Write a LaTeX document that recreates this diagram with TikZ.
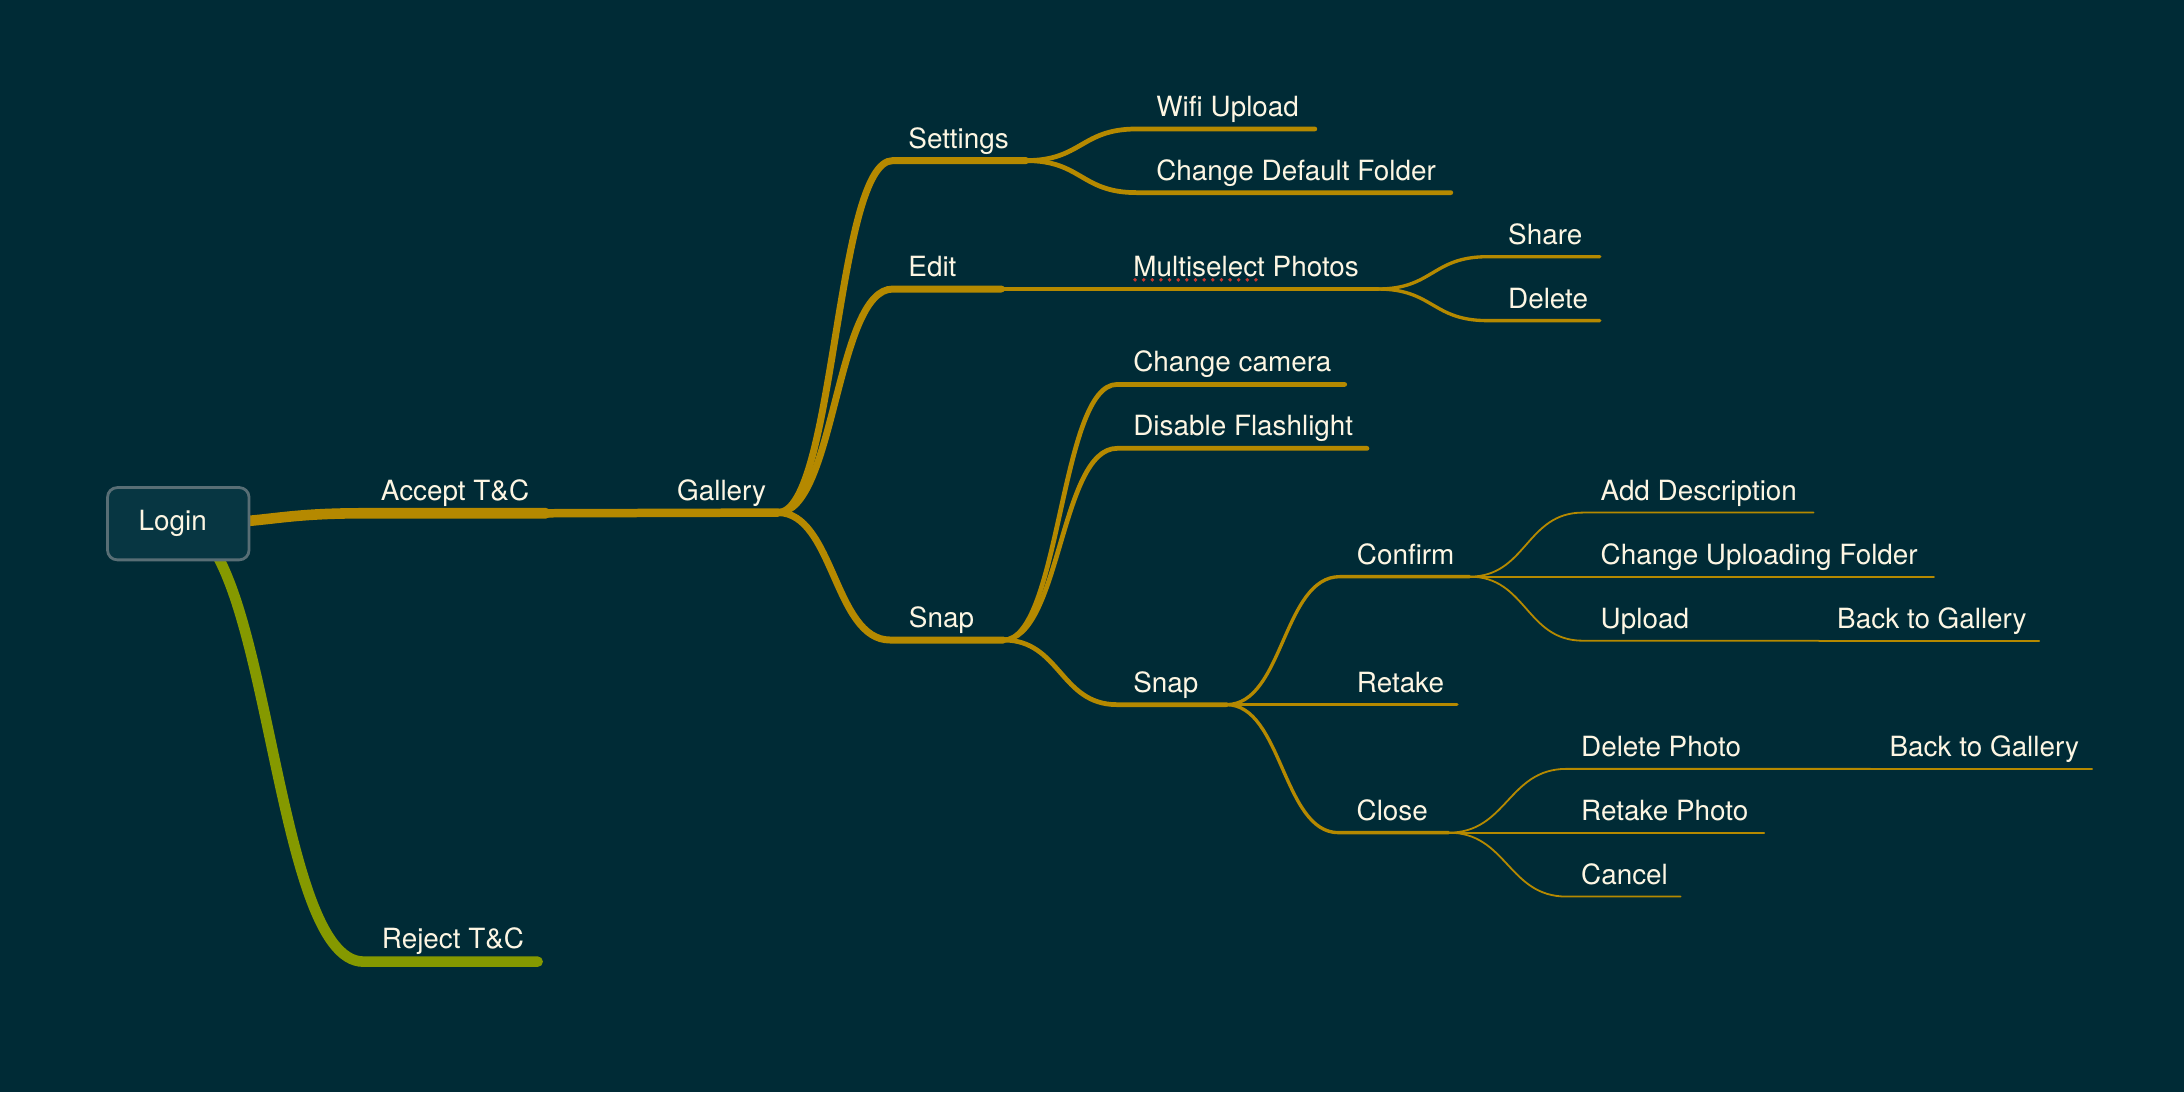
\documentclass[tikz,border=0pt]{standalone}
\usepackage{fontspec}
\setmainfont{TeX Gyre Heros}
\usepackage{tikz}

\definecolor{bgteal}{HTML}{002B36}
\definecolor{boxteal}{HTML}{073642}
\definecolor{boxedge}{HTML}{586E75}
\definecolor{gold}{HTML}{B58900}
\definecolor{olive}{HTML}{859900}
\definecolor{cream}{HTML}{FDF6E3}
\definecolor{spell}{HTML}{C8372D}

\begin{document}
\begin{tikzpicture}[x=1pt,y=-1pt,
	lbl/.style={anchor=base west,inner sep=0pt,text=cream,font=\fontsize{20}{24}\selectfont},
	br/.style={draw=gold,line cap=round,line width=#1}]
	\fill[bgteal] (0,0) rectangle (1568,784);
	\useasboundingbox (0,0) rectangle (1568,784);

\coordinate (root) at (128,376);
\coordinate (Accept-s) at (262,368.5);
\coordinate (Accept-e) at (392,368.5);
\coordinate (Gallery-e) at (558.5,368);
\coordinate (Reject-s) at (261,690.4);
\coordinate (Reject-e) at (386,690.4);
\coordinate (Settings-s) at (641,115.3);
\coordinate (Settings-e) at (736.6,115.3);
\coordinate (Wifi-s) at (816,92.6);
\coordinate (Wifi-e) at (944,92.6);
\coordinate (Default-s) at (816,138.3);
\coordinate (Default-e) at (1041.6,138.3);
\coordinate (Edit-s) at (641,207.5);
\coordinate (Edit-e) at (719,207.5);
\coordinate (Multi-e) at (989,207.5);
\coordinate (Share-s) at (1068,184.3);
\coordinate (Share-e) at (1148.6,184.3);
\coordinate (Delete-s) at (1068,230.2);
\coordinate (Delete-e) at (1148.6,230.2);
\coordinate (Snap-s) at (639,459.5);
\coordinate (Snap-e) at (720.3,459.5);
\coordinate (Camera-s) at (802,276);
\coordinate (Camera-e) at (965.4,276);
\coordinate (Flash-s) at (802,321.9);
\coordinate (Flash-e) at (981.4,321.9);
\coordinate (SnapB-s) at (802,505.9);
\coordinate (SnapB-e) at (880.5,505.9);
\coordinate (Confirm-s) at (962,414);
\coordinate (Confirm-e) at (1055,414);
\coordinate (Retake-e) at (1046,505.9);
\coordinate (Close-s) at (961,597.8);
\coordinate (Close-e) at (1040,597.8);
\coordinate (AddDesc-s) at (1136.5,368);
\coordinate (AddDesc-e) at (1302,368);
\coordinate (UpFolder-e) at (1388.5,414);
\coordinate (Upload-s) at (1136.5,460);
\coordinate (Upload-e) at (1306,460);
\coordinate (BackA-e) at (1464,460);
\coordinate (DelPhoto-s) at (1124.7,552);
\coordinate (DelPhoto-e) at (1343,552);
\coordinate (BackB-e) at (1502,552);
\coordinate (RetPhoto-e) at (1266.6,597.8);
\coordinate (Cancel-s) at (1124.7,643.7);
\coordinate (Cancel-e) at (1206.6,643.7);

\draw[br=7.6pt] (root) .. controls +(67,0) and +(-67,0) .. (Accept-s) -- (Accept-e);
\draw[br=7.6pt,draw=olive] (root) .. controls +(66,0) and +(-66,0) .. (Reject-s) -- (Reject-e);
\draw[br=6.1pt] (Accept-e) -- (Gallery-e);

\draw[br=5pt] (Gallery-e) .. controls +(41,0) and +(-41,0) .. (Settings-s) -- (Settings-e);
\draw[br=5pt] (Gallery-e) .. controls +(41,0) and +(-41,0) .. (Edit-s) -- (Edit-e);
\draw[br=5pt] (Gallery-e) .. controls +(40,0) and +(-40,0) .. (Snap-s) -- (Snap-e);

\draw[br=3.4pt] (Settings-e) .. controls +(40,0) and +(-40,0) .. (Wifi-s) -- (Wifi-e);
\draw[br=3.4pt] (Settings-e) .. controls +(40,0) and +(-40,0) .. (Default-s) -- (Default-e);
\draw[br=3.4pt] (Edit-e) -- (Multi-e);
\draw[br=2.4pt] (Multi-e) .. controls +(40,0) and +(-40,0) .. (Share-s) -- (Share-e);
\draw[br=2.4pt] (Multi-e) .. controls +(40,0) and +(-40,0) .. (Delete-s) -- (Delete-e);

\draw[br=3.4pt] (Snap-e) .. controls +(41,0) and +(-41,0) .. (Camera-s) -- (Camera-e);
\draw[br=3.4pt] (Snap-e) .. controls +(41,0) and +(-41,0) .. (Flash-s) -- (Flash-e);
\draw[br=3.4pt] (Snap-e) .. controls +(41,0) and +(-41,0) .. (SnapB-s) -- (SnapB-e);

\draw[br=2.4pt] (SnapB-e) .. controls +(41,0) and +(-41,0) .. (Confirm-s) -- (Confirm-e);
\draw[br=2.4pt] (SnapB-e) -- (Retake-e);
\draw[br=2.4pt] (SnapB-e) .. controls +(40,0) and +(-40,0) .. (Close-s) -- (Close-e);

\draw[br=1.3pt] (Confirm-e) .. controls +(41,0) and +(-41,0) .. (AddDesc-s) -- (AddDesc-e);
\draw[br=1.3pt] (Confirm-e) -- (UpFolder-e);
\draw[br=1.3pt] (Confirm-e) .. controls +(41,0) and +(-41,0) .. (Upload-s) -- (Upload-e);
\draw[br=1.2pt] (Upload-e) -- (BackA-e);

\draw[br=1.3pt] (Close-e) .. controls +(42,0) and +(-42,0) .. (DelPhoto-s) -- (DelPhoto-e);
\draw[br=1.3pt] (Close-e) -- (RetPhoto-e);
\draw[br=1.3pt] (Close-e) .. controls +(42,0) and +(-42,0) .. (Cancel-s) -- (Cancel-e);
\draw[br=1.2pt] (DelPhoto-e) -- (BackB-e);

\node[draw=boxedge,fill=boxteal,line width=2pt,rounded corners=7pt,
	text width=56.8pt,inner xsep=22.4pt,align=left,minimum height=51.9pt,
	text=cream,font=\fontsize{20}{24}\selectfont] (Login) at (root) {Login};

\node[lbl] (Accept) at (273.3,359.4) {Accept T\&C};
\node[lbl] (Reject) at (274,680.8) {Reject T\&C};
\node[lbl] (Gallery) at (486,359.4) {Gallery};
\node[lbl] (Settings) at (652,106.3) {Settings};
\node[lbl] (Wifi) at (830,83.6) {Wifi Upload};
\node[lbl] (Default) at (830,129.3) {Change Default Folder};
\node[lbl] (Edit) at (652,198.5) {Edit};
\node[lbl] (Multi) at (813.5,198.5) {Multiselect Photos};
\node[lbl] (Share) at (1082.6,175.3) {Share};
\node[lbl] (Delete) at (1082.6,221.2) {Delete};
\node[lbl] (Snap) at (652.4,450.5) {Snap};
\node[lbl] (Camera) at (813.5,267) {Change camera};
\node[lbl] (Flash) at (813.5,312.9) {Disable Flashlight};
\node[lbl] (SnapB) at (813.5,496.9) {Snap};
\node[lbl] (Confirm) at (974,405) {Confirm};
\node[lbl] (Retake) at (974,496.9) {Retake};
\node[lbl] (Close) at (973.8,588.8) {Close};
\node[lbl] (AddDesc) at (1149,359) {Add Description};
\node[lbl] (UpFolder) at (1149,405) {Change Uploading Folder};
\node[lbl] (Upload) at (1149,451) {Upload};
\node[lbl] (BackA) at (1318.8,451) {Back to Gallery};
\node[lbl] (DelPhoto) at (1135,543) {Delete Photo};
\node[lbl] (RetPhoto) at (1135,588.8) {Retake Photo};
\node[lbl] (Cancel) at (1135,634.7) {Cancel};
\node[lbl] (BackB) at (1356.4,543) {Back to Gallery};

\draw[spell,line width=2.8pt,line cap=round,dash pattern=on 0pt off 6.2pt] ([xshift=1.4pt,yshift=-2.4pt]Multi.base west) -- ++(91,0);

\end{tikzpicture}
\end{document}
